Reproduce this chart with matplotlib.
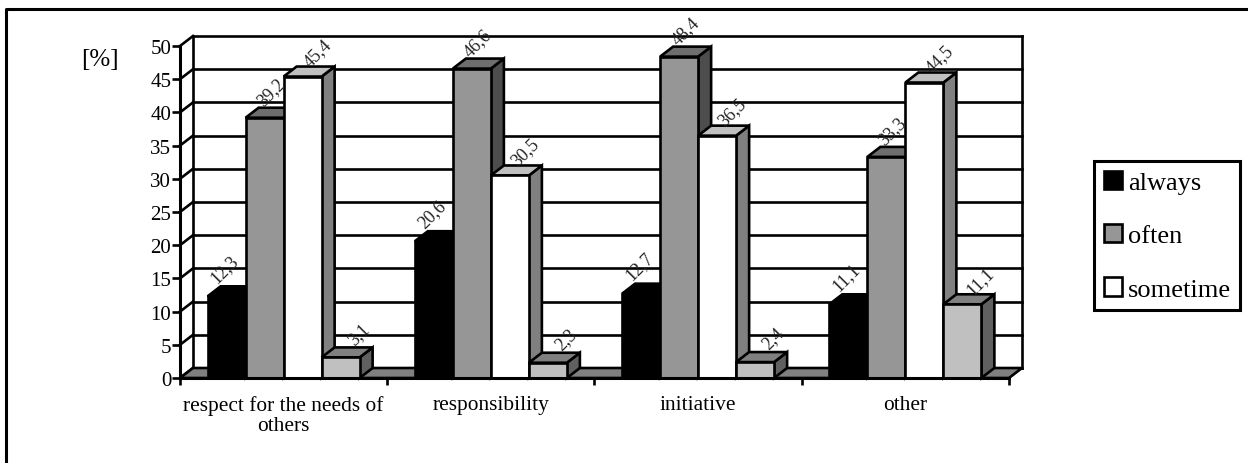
import matplotlib
matplotlib.use("Agg")
import matplotlib.pyplot as plt
from matplotlib.lines import Line2D
from matplotlib.patches import Patch

plt.rcParams['font.family'] = ['Liberation Serif', 'DejaVu Serif']

W, H = 1248, 464

categories = ['respect for the needs of\nothers', 'responsibility', 'initiative', 'other']
legend_names = ['always', 'often', 'sometime']

always = [12.3, 20.6, 12.7, 11.1]
often = [39.2, 46.6, 48.4, 33.3]
sometime = [45.4, 30.5, 36.5, 44.5]
rest = [3.1, 2.3, 2.4, 11.1]

series = [always, often, sometime, rest]
front_cols = ['#000000', '#969696', '#ffffff', '#c0c0c0']
top_cols = ['#000000', '#6e6e6e', '#c0c0c0', '#808080']
side_cols = ['#000000', '#4d4d4d', '#808080', '#606060']
# where the value labels sit, pixels from the bar's front top-left corner
label_off = [(17, 28), (25, 26), (34, 24), (37, 24)]

fig = plt.figure(figsize=(W / 100, H / 100), dpi=100)
ax = fig.add_axes([180 / W, (H - 379) / H, 829 / W, 332 / H])
ax.set_xlim(0, 4)
ax.set_ylim(0, 50)
ax.patch.set_visible(False)

lw = 1.9
# depth of the fake 3d, in data units (13 px across, 10 px up)
dx = 13 / (829 / 4)
dy = 10 / (332 / 50)
bar_w = 38 / (829 / 4)

# back wall and floor
for v in range(0, 55, 5):
    ax.plot([dx, 4 + dx], [v + dy, v + dy], color='k', lw=lw, clip_on=False, zorder=1)
    ax.plot([0, dx], [v, v + dy], color='k', lw=lw, clip_on=False, zorder=1)
ax.plot([dx, dx], [dy, 50 + dy], color='k', lw=lw, clip_on=False, zorder=1)
ax.plot([4 + dx, 4 + dx], [dy, 50 + dy], color='k', lw=lw, clip_on=False, zorder=1)
ax.fill([0, 4, 4 + dx, dx], [0, 0, dy, dy], fc='#808080', ec='k', lw=lw, clip_on=False, zorder=2)

# bars, left to right so each front covers the side of the one before it
z = 3
for i in range(len(categories)):
    for j, vals in enumerate(series):
        v = vals[i]
        x0 = i + 0.5 + (j - 2) * bar_w
        x1 = x0 + bar_w
        ax.fill([x1, x1 + dx, x1 + dx, x1], [0, dy, v + dy, v],
                fc=side_cols[j], ec='k', lw=lw, clip_on=False, zorder=z)
        ax.fill([x0, x1, x1 + dx, x0 + dx], [v, v, v + dy, v + dy],
                fc=top_cols[j], ec='k', lw=lw, clip_on=False, zorder=z)
        ax.bar(x0, v, bar_w, align='edge', color=front_cols[j], edgecolor='k', lw=lw,
               clip_on=False, zorder=z + 0.5)
        z += 1

for i in range(len(categories)):
    for j, vals in enumerate(series):
        x0 = i + 0.5 + (j - 2) * bar_w
        ax.annotate(str(vals[i]).replace('.', ','), (x0, vals[i]),
                    xytext=label_off[j], textcoords='offset pixels',
                    rotation=45, ha='center', va='center', fontsize=13,
                    color='#222222', zorder=100, annotation_clip=False)

for s in ['top', 'right']:
    ax.spines[s].set_visible(False)
for s in ['left', 'bottom']:
    ax.spines[s].set_linewidth(lw + 0.3)
    ax.spines[s].set_zorder(90)

ax.set_yticks(range(0, 55, 5))
ax.tick_params(axis='y', length=5.8, width=lw, labelsize=15, pad=0.5)
ax.set_xticks(range(5))
ax.set_xticklabels([])
ax.tick_params(axis='x', which='major', length=5, width=lw)
ax.set_xticks([0.5, 1.5, 2.5, 3.5], minor=True)
ax.set_xticklabels(categories, minor=True, fontsize=15.4, linespacing=1.05)
ax.tick_params(axis='x', which='minor', length=0, pad=12.5)

fig.text(100 / W, 1 - 60 / H, '[%]', fontsize=18, ha='center', va='center')

# outer frame: only the top and left edges fall inside the picture
fig.add_artist(Line2D([6 / W, 6 / W, 1], [0, 1 - 10 / H, 1 - 10 / H], color='k', lw=2.2))

handles = [Patch(fc=c, ec='k', lw=lw) for c in front_cols[:3]]
leg = fig.legend(handles, legend_names, loc='upper left',
                 bbox_to_anchor=(1094 / W, 1 - 162 / H), bbox_transform=fig.transFigure,
                 fontsize=19, frameon=True, fancybox=False, framealpha=1, edgecolor='k',
                 borderaxespad=0, borderpad=0.36, labelspacing=1.13,
                 handlelength=0.7, handleheight=0.7, handletextpad=0.22)
leg.get_frame().set_linewidth(2.2)

fig.savefig('out.png', dpi=100)
